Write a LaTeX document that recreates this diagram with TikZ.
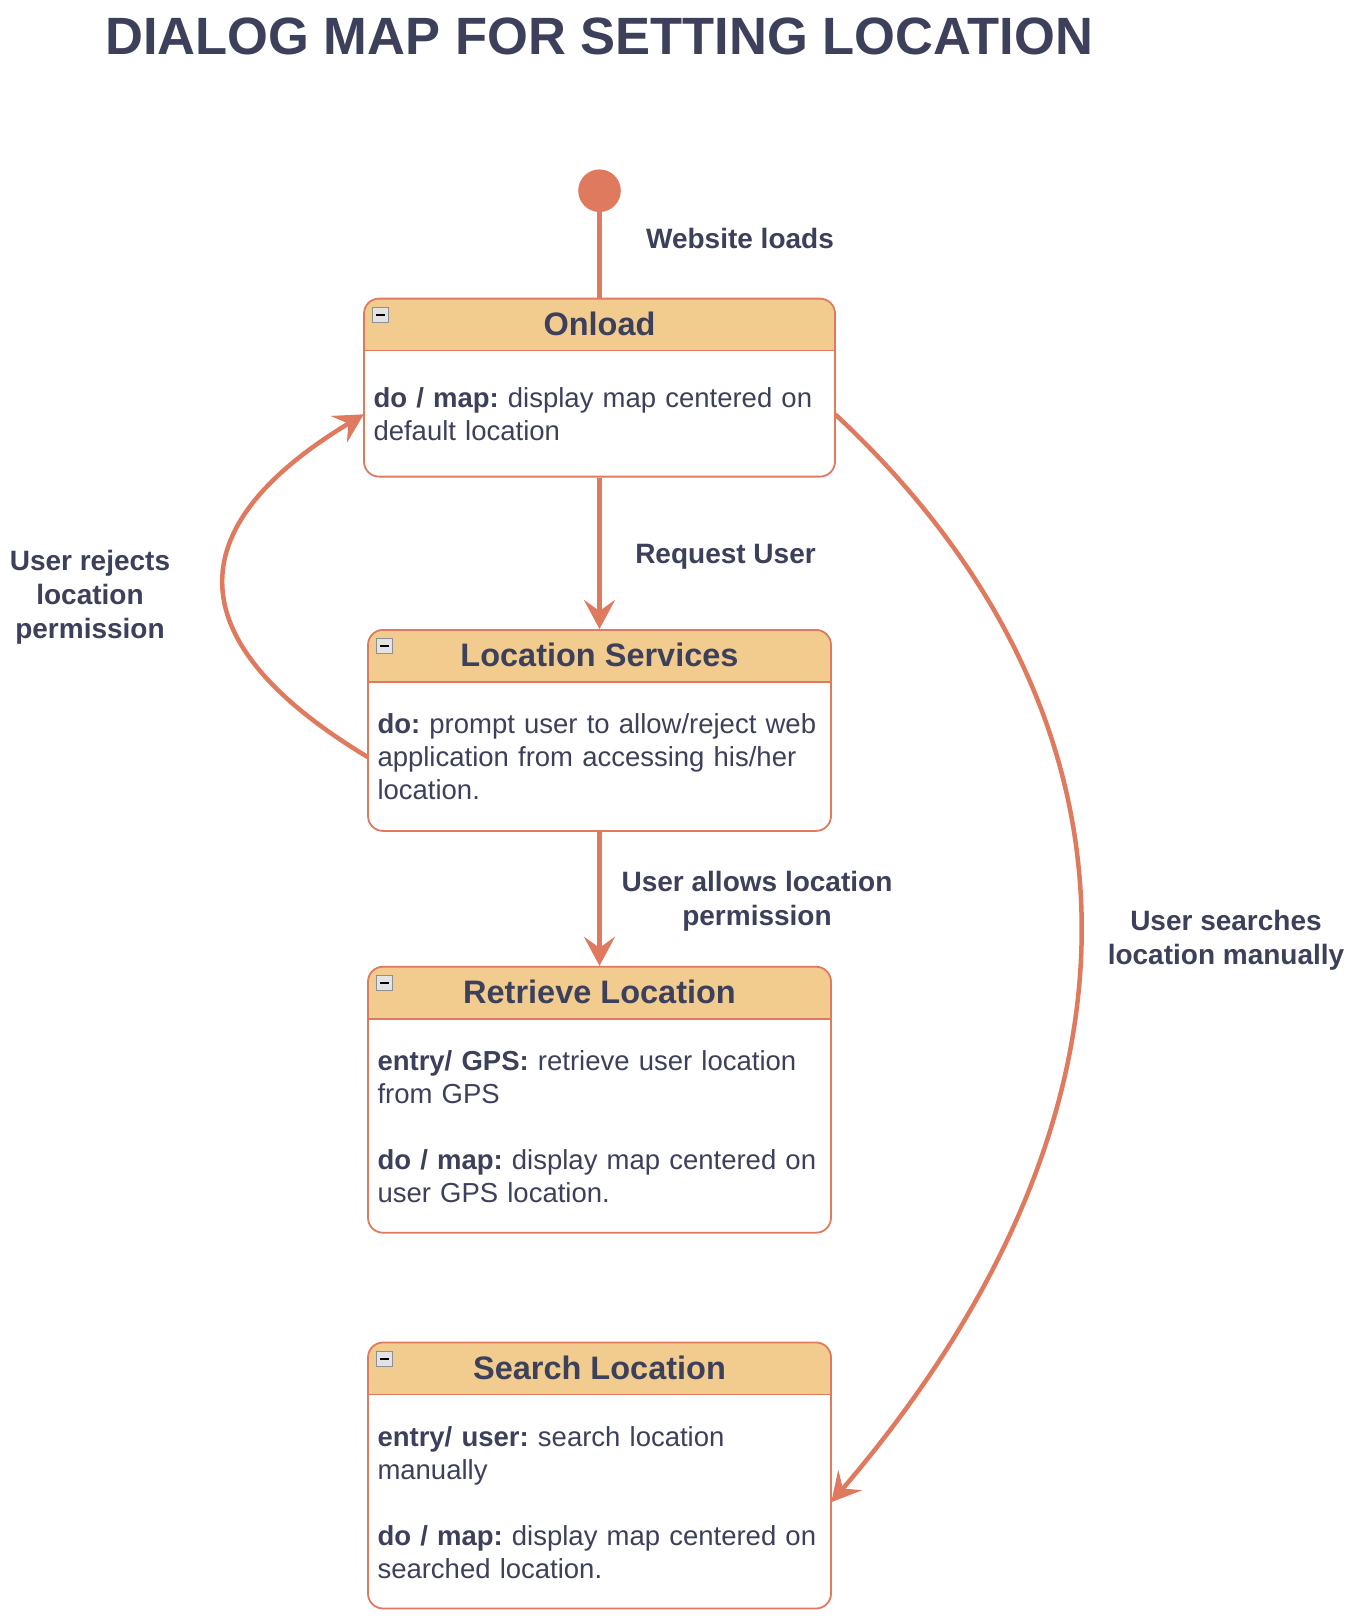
\documentclass[tikz,border=0pt]{standalone}
\usepackage{fontspec}
\setmainfont{Liberation Sans}
\usepackage{xcolor}
\usepackage{tikz}
\usetikzlibrary{positioning,arrows.meta}

\definecolor{lineOrange}{HTML}{E07A5F}
\definecolor{headFill}{HTML}{F2CC8F}
\definecolor{textDark}{HTML}{3D405B}
\definecolor{iconGrey}{HTML}{8C9096}

\tikzstyle{stateBox} = [draw=lineOrange, line width=1.8pt, rounded corners=15pt, fill=white,
	path picture={
		\fill[headFill, sharp corners] (path picture bounding box.north west) rectangle ([yshift=-52pt]path picture bounding box.north east);
		\draw[lineOrange, line width=1.6pt, sharp corners] ([yshift=-52pt]path picture bounding box.north west) -- ([yshift=-52pt]path picture bounding box.north east);
		\draw[iconGrey, fill=gray!22, line width=1pt, sharp corners] ([xshift=8pt,yshift=-9pt]path picture bounding box.north west) rectangle ([xshift=24pt,yshift=-24pt]path picture bounding box.north west);
		\draw[black, line width=2pt, sharp corners] ([xshift=11.5pt,yshift=-16.5pt]path picture bounding box.north west) -- ([xshift=20.5pt,yshift=-16.5pt]path picture bounding box.north west);
	}]
\tikzstyle{stateTitle} = [text=textDark, font=\fontsize{32.5}{39}\selectfont\bfseries, inner sep=0pt]
\tikzstyle{stateText} = [text=textDark, font=\fontsize{27.5}{33}\selectfont\frenchspacing, align=left, inner xsep=9.5pt, inner ysep=0pt, anchor=south]
\tikzstyle{transLabel} = [text=textDark, font=\fontsize{28}{34}\selectfont\bfseries, align=center, inner sep=0pt]
\tikzstyle{transLine} = [draw=lineOrange, line width=4.5pt]
\tikzstyle{transArrow} = [transLine, -{Stealth[length=29pt, width=31pt, inset=11pt]}]
\tikzstyle{initState} = [circle, fill=lineOrange, minimum size=42.6pt, inner sep=0pt]

\begin{document}
\begin{tikzpicture}[x=1pt, y=-1pt]
	\useasboundingbox (0,0) rectangle (1366,1620);
	\fill[white] (0,0) rectangle (1366,1620);
	\node[text=textDark, font=\fontsize{52.5}{62}\selectfont\bfseries, inner sep=0pt] (title) at (599,36.7) {DIALOG MAP FOR SETTING LOCATION};

	\node[initState] (init) at (599.5,190.7) {};												% Startzustand
	\node[stateBox, minimum width=471pt, minimum height=178pt, below=85.5pt of init] (onload) {};		% Onload
	\node[stateBox, minimum width=463pt, minimum height=201pt, below=151.5pt of onload] (locserv) {};	% Location Services
	\node[stateBox, minimum width=463pt, minimum height=266pt, below=134pt of locserv] (retrieve) {};	% Retrieve Location
	\node[stateBox, minimum width=463pt, minimum height=266pt, below=108pt of retrieve] (search) {};	% Search Location

	% Kopfzeilen
	\node[stateTitle] (onload-t) at ([yshift=-26pt]onload.north) {Onload};
	\node[stateTitle] (locserv-t) at ([yshift=-26pt]locserv.north) {Location Services};
	\node[stateTitle] (retrieve-t) at ([yshift=-26pt]retrieve.north) {Retrieve Location};
	\node[stateTitle] (search-t) at ([yshift=-26pt]search.north) {Search Location};

	% Inhalt
	\node[stateText, text width=452pt, minimum height=126pt] (onload-b) at (onload.south) {\textbf{do / map:} display map centered on\\default location};
	\node[stateText, text width=444pt, minimum height=149pt] (locserv-b) at (locserv.south) {\textbf{do:} prompt user to allow/reject web\\application from accessing his/her\\location.};
	\node[stateText, text width=444pt, minimum height=214pt] (retrieve-b) at (retrieve.south) {\textbf{entry/ GPS:} retrieve user location\\from GPS\\[33pt]\textbf{do / map:} display map centered on\\user GPS location.};
	\node[stateText, text width=444pt, minimum height=214pt] (search-b) at (search.south) {\textbf{entry/ user:} search location\\manually\\[33pt]\textbf{do / map:} display map centered on\\searched location.};

	% Beschriftungen der Uebergaenge
	\node[transLabel] (lbl-load) at (740,238) {Website loads};
	\node[transLabel] (lbl-req) at (725.5,557) {Request User};
	\node[transLabel] (lbl-allow) at (757,901.5) {User allows location\\permission};
	\node[transLabel] (lbl-reject) at (90,597) {User rejects\\location\\permission};
	\node[transLabel] (lbl-search) at (1226,940.5) {User searches\\location manually};

	% Uebergaenge
	\draw[transLine] (init) -- (onload);
	\draw[transArrow] (onload) -- (locserv);
	\draw[transArrow] (locserv) -- (retrieve);
	\draw[transArrow] (locserv-b.west) .. controls +(-189,-114) and +(-189,114) .. (onload-b.west);
	\draw[transArrow] (onload-b.east) .. controls +(321,299) and +(338,-395) .. (search-b.east);
\end{tikzpicture}
\end{document}
